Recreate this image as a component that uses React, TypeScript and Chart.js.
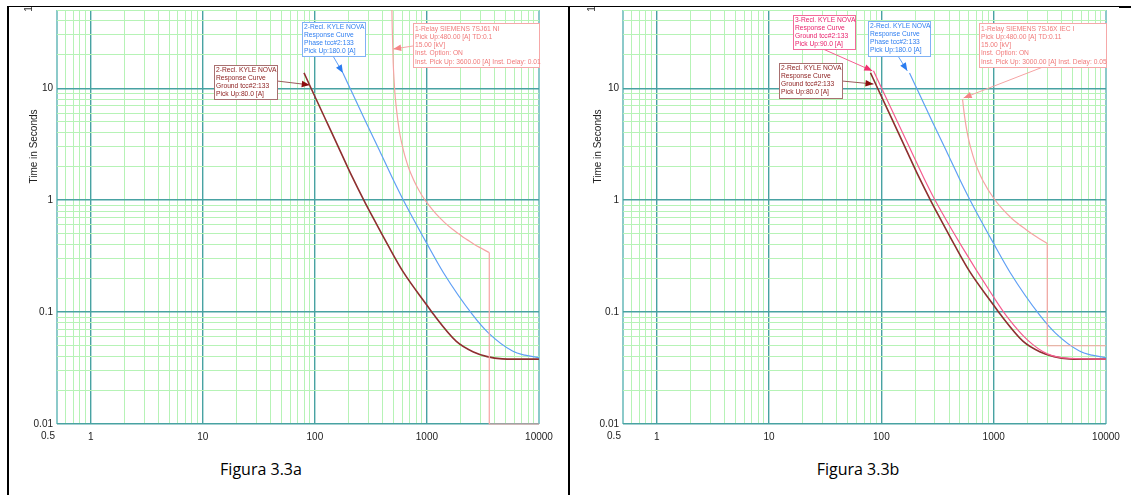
import React, { useEffect, useRef } from "react";
import { Chart, registerables } from "chart.js";

Chart.register(...registerables);

// Axis ranges and labelled ticks
const xMin = 0.5;
const xMax = 10000;
const yMin = 0.01;
const yMax = 50;
const xMajorTicks = [0.5, 1, 10, 100, 1000, 10000];
const xTickLabels = ["0.5", "1", "10", "100", "1000", "10000"];
const yMajorTicks = [0.01, 0.1, 1, 10];
const yTickLabels = ["0.01", "0.1", "1", "10"];
const decadeSteps = [1, 2, 3, 4, 5, 6, 7, 8, 9];

// 2-Recl. KYLE NOVA, ground, pick up 80 A
const recl2GroundAmps = [80, 92.5, 130, 163, 215, 279, 336, 450, 610, 1000, 1130, 1830, 2600, 3450, 4700, 6000, 10000];
const recl2GroundSecs = [13.7, 10, 4.8, 2.95, 1.62, 0.96, 0.676, 0.394, 0.231, 0.115, 0.097, 0.0547, 0.044, 0.04, 0.0382, 0.038, 0.038];

// 2-Recl. KYLE NOVA, phase, pick up 180 A
const recl2PhaseAmps = [178, 207, 285, 380, 487, 610, 994, 1400, 2550, 3550, 5800, 7500, 10000];
const recl2PhaseSecs = [13.7, 9.9, 5.0, 2.73, 1.61, 1.02, 0.413, 0.226, 0.0948, 0.0649, 0.0449, 0.0412, 0.0392];

// 3-Recl. KYLE NOVA, ground, pick up 90 A
const recl3GroundAmps = [85, 100, 145, 185, 237, 295, 505, 994, 1324, 1995, 3006, 4820, 10000];
const recl3GroundSecs = [14.3, 10.1, 4.58, 2.72, 1.6, 1.035, 0.405, 0.137, 0.09, 0.0564, 0.0423, 0.0385, 0.038];

// 1-Relay SIEMENS 7SJ61 NI, 480 A: inverse part, then inst. 3600 A / 0.01 s
const relay61Amps = [487, 490, 500, 510, 518, 530, 552, 576, 600, 624, 650, 680, 720, 800, 900, 1000, 1200, 1440, 1680, 1920, 2160, 2400, 2700, 3000, 3300, 3600];
const relay61Secs = [50, 35, 17, 11.5, 9, 7.07, 5, 3.8, 3.13, 2.66, 2.3, 2.0, 1.72, 1.363, 1.107, 0.95, 0.757, 0.63, 0.552, 0.5, 0.458, 0.43, 0.398, 0.375, 0.356, 0.34];
const relay61InstAmps = [3600, 3600, 10000];
const relay61InstSecs = [0.34, 0.01, 0.01];

// 1-Relay SIEMENS 7SJ6X IEC I, 480 A: inverse part, then inst. 3000 A / 0.05 s
const relay6XAmps = [528, 540, 552, 576, 600, 624, 680, 720, 800, 1000, 1200, 1440, 1920, 2400, 3000];
const relay6XSecs = [8.0, 6.5, 5.5, 4.2, 3.44, 2.93, 2.2, 1.89, 1.5, 1.04, 0.83, 0.69, 0.55, 0.47, 0.41];
const relay6XInstAmps = [3000, 3000, 10000];
const relay6XInstSecs = [0.41, 0.05, 0.05];

const FONT = '"Liberation Sans", Arial, Helvetica, sans-serif';

const BROWN = "#8e2f2f";
const BLUE = "#5f9ff5";
const SALMON = "#f6a3a3";
const PINK = "#f55d8f";

const TEAL = "#48a2a2";
const TEAL_EDGE = "#8ccaca";
const GREEN = "#b6f3b6";

type Curve = { amps: number[]; secs: number[]; color: string; width: number; smooth: boolean };
type Note = {
  lines: string[];
  box: number[];
  from: number[];
  tip: number[];
  text: string;
  frame: string;
  lead: string;
  head: string;
};

function logGrid(min: number, max: number): number[] {
  const out: number[] = [];
  for (let e = -3; e <= 5; e++) {
    for (const m of decadeSteps) {
      const v = Number((m * Math.pow(10, e)).toPrecision(6));
      if (v >= min * 0.9999 && v <= max * 1.0001) out.push(v);
    }
  }
  if (out[0] > min) out.unshift(min);
  return out;
}

function findIndex(list: number[], v: number): number {
  for (let i = 0; i < list.length; i++) {
    if (Math.abs(v / list[i] - 1) < 1e-6) return i;
  }
  return -1;
}

function isDecade(v: number): boolean {
  const l = Math.log10(v);
  return Math.abs(l - Math.round(l)) < 1e-6;
}

const CANVAS_H = 455;
const AREA_BOTTOM = 424;
const AREA_TOP = 7.5;

function TccPanel(props: {
  left: number;
  width: number;
  axisWidth: number;
  padRight: number;
  curves: Curve[];
  notes: Note[];
  titleX: number;
  markX: number;
}) {
  const ref = useRef<HTMLCanvasElement | null>(null);

  useEffect(() => {
    const canvas = ref.current;
    if (!canvas) return;

    const decor = {
      id: "tccDecor",
      afterDatasetsDraw(chart: any) {
        const ctx = chart.ctx as CanvasRenderingContext2D;
        const xs = chart.scales.x;
        const ys = chart.scales.y;
        const area = chart.chartArea;
        ctx.save();

        // first current label sits left of its grid line
        ctx.font = `10px ${FONT}`;
        ctx.fillStyle = "#222";
        ctx.textAlign = "center";
        ctx.textBaseline = "top";
        ctx.fillText(xTickLabels[0], area.left - 9, area.bottom + 7);

        // y axis title
        ctx.save();
        ctx.translate(props.titleX, 146.5);
        ctx.rotate(-Math.PI / 2);
        ctx.textAlign = "center";
        ctx.textBaseline = "middle";
        ctx.fillStyle = "#222";
        ctx.fillText("Time in Seconds", 0, 0);
        ctx.restore();

        // clipped rotated label at the top corner
        ctx.save();
        ctx.translate(props.markX, 9);
        ctx.rotate(-Math.PI / 2);
        ctx.textAlign = "center";
        ctx.textBaseline = "middle";
        ctx.fillStyle = "#333";
        ctx.fillText("1", 0, 0);
        ctx.restore();

        // device callouts
        for (const n of props.notes) {
          const tx = xs.getPixelForValue(n.tip[0]);
          const ty = ys.getPixelForValue(n.tip[1]);
          const fx = n.from[0];
          const fy = n.from[1];
          ctx.strokeStyle = n.lead;
          ctx.lineWidth = 1;
          ctx.beginPath();
          ctx.moveTo(fx, fy);
          ctx.lineTo(tx, ty);
          ctx.stroke();
          const ang = Math.atan2(ty - fy, tx - fx);
          const L = 8;
          const W = 3.3;
          const c = Math.cos(ang);
          const s = Math.sin(ang);
          ctx.fillStyle = n.head;
          ctx.beginPath();
          ctx.moveTo(tx, ty);
          ctx.lineTo(tx - L * c + W * s, ty - L * s - W * c);
          ctx.lineTo(tx - L * c - W * s, ty - L * s + W * c);
          ctx.closePath();
          ctx.fill();

          const [bx, by, bw, bh] = n.box;
          ctx.fillStyle = "#ffffff";
          ctx.fillRect(bx, by, bw, bh);
          ctx.strokeStyle = n.frame;
          ctx.strokeRect(bx + 0.5, by + 0.5, bw, bh);
          ctx.fillStyle = n.text;
          ctx.font = `6.7px ${FONT}`;
          ctx.textAlign = "left";
          ctx.textBaseline = "middle";
          const first = n.lines.length > 4 ? 6 : 4.7;
          n.lines.forEach((line, i) => {
            ctx.fillText(line, bx + 2, by + first + i * 8.2);
          });
        }
        ctx.restore();
      },
    };

    const xGrid = logGrid(xMin, xMax);
    const yGrid = logGrid(yMin, yMax);

    const chart = new Chart(canvas, {
      type: "scatter",
      data: {
        datasets: props.curves.map((c, i) => ({
          label: "curve" + i,
          data: c.amps.map((a, k) => ({ x: a, y: c.secs[k] })),
          showLine: true,
          borderColor: c.color,
          backgroundColor: c.color,
          borderWidth: c.width,
          pointRadius: 0,
          tension: c.smooth ? 0.4 : 0,
          cubicInterpolationMode: c.smooth ? "monotone" : "default",
          clip: false,
        })) as any,
      },
      options: {
        animation: false,
        responsive: false,
        devicePixelRatio: 1,
        events: [],
        layout: { padding: { left: 0, right: props.padRight, top: AREA_TOP, bottom: 0 } },
        plugins: { legend: { display: false }, tooltip: { enabled: false } },
        scales: {
          x: {
            type: "logarithmic",
            min: xMin,
            max: xMax,
            afterBuildTicks: (scale: any) => {
              scale.ticks = xGrid.map((v) => ({ value: v }));
            },
            afterFit: (scale: any) => {
              scale.height = CANVAS_H - AREA_BOTTOM;
            },
            ticks: {
              autoSkip: false,
              maxRotation: 0,
              minRotation: 0,
              padding: 7,
              color: "#222",
              font: { family: FONT, size: 10 },
              callback: (v: any) => {
                const i = findIndex(xMajorTicks, Number(v));
                return i > 0 ? xTickLabels[i] : "";
              },
            },
            grid: {
              drawTicks: false,
              color: (ctx: any) => {
                const v = ctx.tick ? ctx.tick.value : 1;
                if (Math.abs(v - xMin) < 1e-9 || Math.abs(v - xMax) < 1e-6) return TEAL_EDGE;
                return isDecade(v) ? TEAL : GREEN;
              },
              lineWidth: (ctx: any) => {
                const v = ctx.tick ? ctx.tick.value : 1;
                if (Math.abs(v - xMin) < 1e-9 || Math.abs(v - xMax) < 1e-6) return 2;
                return isDecade(v) ? 1.4 : 1;
              },
            },
            border: { display: false },
          },
          y: {
            type: "logarithmic",
            min: yMin,
            max: yMax,
            afterBuildTicks: (scale: any) => {
              scale.ticks = yGrid.map((v) => ({ value: v }));
            },
            afterFit: (scale: any) => {
              scale.width = props.axisWidth;
            },
            ticks: {
              autoSkip: false,
              padding: 4,
              color: "#222",
              font: { family: FONT, size: 10 },
              callback: (v: any) => {
                const i = findIndex(yMajorTicks, Number(v));
                return i >= 0 ? yTickLabels[i] : "";
              },
            },
            grid: {
              drawTicks: false,
              color: (ctx: any) => {
                const v = ctx.tick ? ctx.tick.value : 1;
                return isDecade(v) ? TEAL : GREEN;
              },
              lineWidth: (ctx: any) => {
                const v = ctx.tick ? ctx.tick.value : 1;
                return isDecade(v) ? 1.4 : 1;
              },
            },
            border: { display: false },
          },
        },
      } as any,
      plugins: [decor],
    });

    return () => chart.destroy();
  }, []);

  return (
    <canvas
      ref={ref}
      width={props.width}
      height={CANVAS_H}
      style={{ position: "absolute", left: props.left, top: 0, width: props.width, height: CANVAS_H }}
    />
  );
}

const groundNote = (box: number[], from: number[], tip: number[]): Note => ({
  lines: ["2-Recl. KYLE NOVA", "Response Curve", "Ground tcc#2:133", "Pick Up:80.0 [A]"],
  box,
  from,
  tip,
  text: "#8b1c1c",
  frame: "#a87070",
  lead: "#9a5a5a",
  head: "#8b0e0e",
});

const phaseNote = (box: number[], from: number[], tip: number[]): Note => ({
  lines: ["2-Recl. KYLE NOVA", "Response Curve", "Phase tcc#2:133", "Pick Up:180.0 [A]"],
  box,
  from,
  tip,
  text: "#2f7ff0",
  frame: "#80b2f5",
  lead: "#5f9ff5",
  head: "#2a7cf0",
});

const leftCurves: Curve[] = [
  { amps: relay61Amps, secs: relay61Secs, color: SALMON, width: 1.2, smooth: true },
  { amps: relay61InstAmps, secs: relay61InstSecs, color: SALMON, width: 1.2, smooth: false },
  { amps: recl2PhaseAmps, secs: recl2PhaseSecs, color: BLUE, width: 1.2, smooth: true },
  { amps: recl2GroundAmps, secs: recl2GroundSecs, color: BROWN, width: 1.6, smooth: true },
];

const rightCurves: Curve[] = [
  { amps: relay6XAmps, secs: relay6XSecs, color: SALMON, width: 1.2, smooth: true },
  { amps: relay6XInstAmps, secs: relay6XInstSecs, color: SALMON, width: 1.2, smooth: false },
  { amps: recl2PhaseAmps, secs: recl2PhaseSecs, color: BLUE, width: 1.2, smooth: true },
  { amps: recl3GroundAmps, secs: recl3GroundSecs, color: PINK, width: 1.2, smooth: true },
  { amps: recl2GroundAmps, secs: recl2GroundSecs, color: BROWN, width: 1.6, smooth: true },
];

const leftNotes: Note[] = [
  groundNote([214, 65, 63, 34], [277, 81], [90, 10.7]),
  phaseNote([302, 22, 63, 34], [333, 56], [178, 13.7]),
  {
    lines: [
      "1-Relay SIEMENS 7SJ61 NI",
      "Pick Up:480.00 [A] TD:0.1",
      "15.00 [kV]",
      "Inst. Option: ON",
      "Inst. Pick Up: 3600.00 [A] Inst. Delay: 0.01",
    ],
    box: [413, 23, 126, 44],
    from: [413, 46],
    tip: [500, 22.4],
    text: "#f07a7a",
    frame: "#f6a8a8",
    lead: "#f6a3a3",
    head: "#f58585",
  },
];

const rightNotes: Note[] = [
  {
    lines: ["3-Recl. KYLE NOVA", "Response Curve", "Ground tcc#2:133", "Pick Up:90.0 [A]"],
    box: [225, 15, 62, 34],
    from: [255, 49],
    tip: [83, 14.3],
    text: "#e8226c",
    frame: "#f36a9a",
    lead: "#f55d8f",
    head: "#f0306e",
  },
  groundNote([211, 63, 63, 35], [274, 81], [85, 10.9]),
  phaseNote([300, 21, 62, 35], [330, 56], [170, 14.3]),
  {
    lines: [
      "1-Relay SIEMENS 7SJ6X IEC I",
      "Pick Up:480.00 [A] TD:0.11",
      "15.00 [kV]",
      "Inst. Option: ON",
      "Inst. Pick Up: 3000.00 [A] Inst. Delay: 0.05",
    ],
    box: [411, 23, 127, 44],
    from: [475, 67],
    tip: [540, 8.2],
    text: "#f07a7a",
    frame: "#f6a8a8",
    lead: "#f6a3a3",
    head: "#f58585",
  },
];

const captionStyle: React.CSSProperties = {
  position: "absolute",
  top: 458,
  width: 240,
  textAlign: "center",
  fontFamily: '"Open Sans", "Liberation Sans", sans-serif',
  fontSize: 16,
  lineHeight: "22px",
  color: "#000",
};

export default function App() {
  return (
    <div
      style={{
        position: "fixed",
        left: 0,
        top: 0,
        width: 1131,
        height: 495,
        background: "#ffffff",
        overflow: "hidden",
      }}
    >
      <TccPanel
        left={0}
        width={565}
        axisWidth={57}
        padRight={26}
        curves={leftCurves}
        notes={leftNotes}
        titleX={34}
        markX={29.5}
      />
      <TccPanel
        left={568}
        width={563}
        axisWidth={55}
        padRight={25}
        curves={rightCurves}
        notes={rightNotes}
        titleX={30}
        markX={24}
      />
      <div style={{ ...captionStyle, left: 261 - 120 }}>Figura 3.3a</div>
      <div style={{ ...captionStyle, left: 858 - 120 }}>Figura 3.3b</div>
      {/* table rules */}
      <div style={{ position: "absolute", left: 7, top: 6, width: 1124, height: 1, background: "#000" }} />
      <div style={{ position: "absolute", left: 7, top: 6, width: 2, height: 489, background: "#000" }} />
      <div style={{ position: "absolute", left: 568, top: 6, width: 2, height: 489, background: "#000" }} />
      <div style={{ position: "absolute", left: 1119, top: 6, width: 12, height: 2, background: "#000" }} />
    </div>
  );
}
